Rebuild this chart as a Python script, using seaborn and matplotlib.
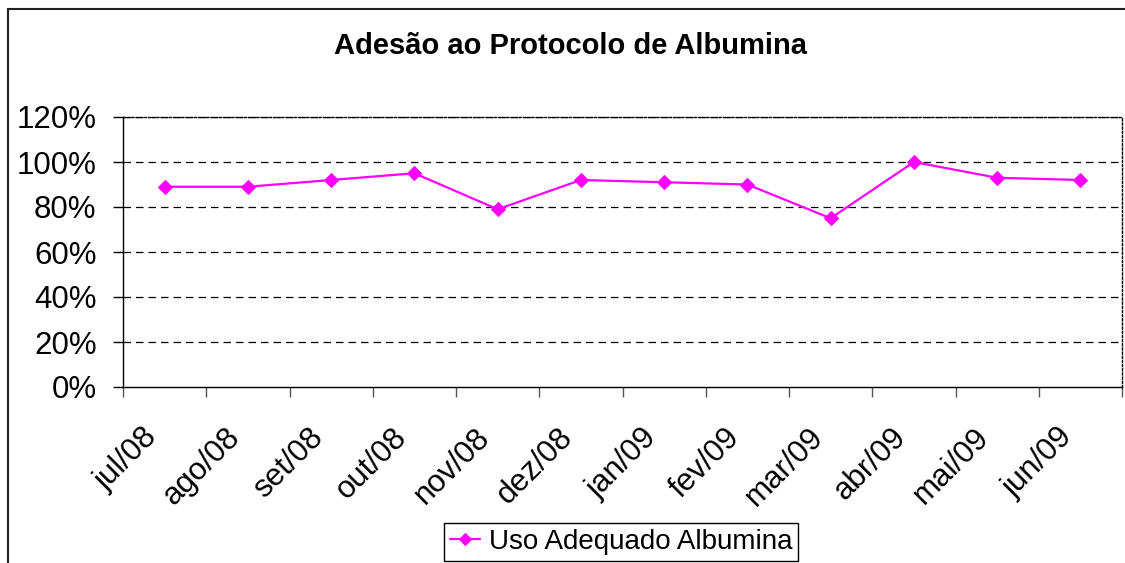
import numpy as np
import pandas as pd
import matplotlib
matplotlib.use("Agg")
import matplotlib.pyplot as plt
from matplotlib.patches import Rectangle
from matplotlib.transforms import ScaledTranslation
from matplotlib.ticker import FixedLocator, NullFormatter, FixedFormatter
import seaborn as sns

months = ["jul/08", "ago/08", "set/08", "out/08", "nov/08", "dez/08",
          "jan/09", "fev/09", "mar/09", "abr/09", "mai/09", "jun/09"]
uso_adequado = [89, 89, 92, 95, 79, 92, 91, 90, 75, 100, 93, 92]
y_ticks = [0, 20, 40, 60, 80, 100, 120]
series_name = "Uso Adequado Albumina"
title = "Adesão ao Protocolo de Albumina"

sns.set_style("white")
plt.rcParams['font.family'] = ['Liberation Sans', 'DejaVu Sans']
plt.rcParams['text.color'] = 'black'
plt.rcParams['xtick.color'] = 'black'
plt.rcParams['ytick.color'] = 'black'

df = pd.DataFrame({"pos": np.arange(len(months)) + 0.5, "value": uso_adequado})

fig = plt.figure(figsize=(11.25, 5.63), dpi=100)
ax = fig.add_axes([123 / 1125, 1 - 387 / 563, 999 / 1125, 270 / 563])

sns.lineplot(data=df, x="pos", y="value", ax=ax, color="#FF00FF", linewidth=1.6,
             marker="D", markersize=7, markeredgecolor="#FF00FF", label=series_name, legend=False)

ax.set_xlim(0, len(months))
ax.set_ylim(0, 120)
ax.set_xlabel("")
ax.set_ylabel("")

# y axis
ax.set_yticks(y_ticks)
ax.set_yticklabels([f"{t}%" for t in y_ticks], fontsize=22.5, color="black")
ax.tick_params(axis="y", direction="out", length=7, width=1, color="black", pad=12, left=True)
for t in y_ticks[1:]:
    ax.axhline(t, color="black", linewidth=0.9, linestyle=(0, (6, 4)), zorder=1)

# x axis: ticks between categories, labels at category centers
ax.xaxis.set_major_locator(FixedLocator(np.arange(len(months) + 1)))
ax.xaxis.set_major_formatter(NullFormatter())
ax.xaxis.set_minor_locator(FixedLocator(df["pos"]))
ax.xaxis.set_minor_formatter(FixedFormatter(months))
ax.tick_params(axis="x", which="major", direction="out", length=7, width=1, color="#555555", bottom=True)
ax.tick_params(axis="x", which="minor", length=0, pad=33, labelsize=22.5, labelcolor="black")
shift = ScaledTranslation(-12 / 100, 0, fig.dpi_scale_trans)
for lbl in ax.get_xticklabels(minor=True):
    lbl.set_rotation(45)
    lbl.set_ha("right")
    lbl.set_va("center")
    lbl.set_rotation_mode("anchor")
    lbl.set_transform(lbl.get_transform() + shift)

for side in ["left", "bottom"]:
    ax.spines[side].set_color("black")
    ax.spines[side].set_linewidth(1)
for side in ["top", "right"]:
    ax.spines[side].set_color("black")
    ax.spines[side].set_linewidth(1)
    ax.spines[side].set_linestyle((0, (1.5, 1.5)))

fig.text(570 / 1125, 1 - 46 / 563, title, ha="center", va="center", fontsize=21,
         fontweight="bold", color="black")

handles, labels = ax.get_legend_handles_labels()
leg = fig.legend(handles, labels, loc="center", bbox_to_anchor=(621 / 1125, 1 - 542 / 563),
                 fontsize=20, frameon=True, fancybox=False, edgecolor="black", framealpha=1,
                 handlelength=1.1, handletextpad=0.3, borderpad=0.2, borderaxespad=0)
leg.get_frame().set_linewidth(1)
for line in leg.get_lines():
    line.set_markersize(6)
for txt in leg.get_texts():
    txt.set_color("black")

# outer chart frame (cut off at right and bottom)
fig.patches.append(Rectangle((8 / 1125, -0.1), 1.2, 1 - 9 / 563 + 0.1, transform=fig.transFigure,
                             fill=False, edgecolor="#222222", linewidth=1.5))

fig.savefig("out.png", dpi=100)
